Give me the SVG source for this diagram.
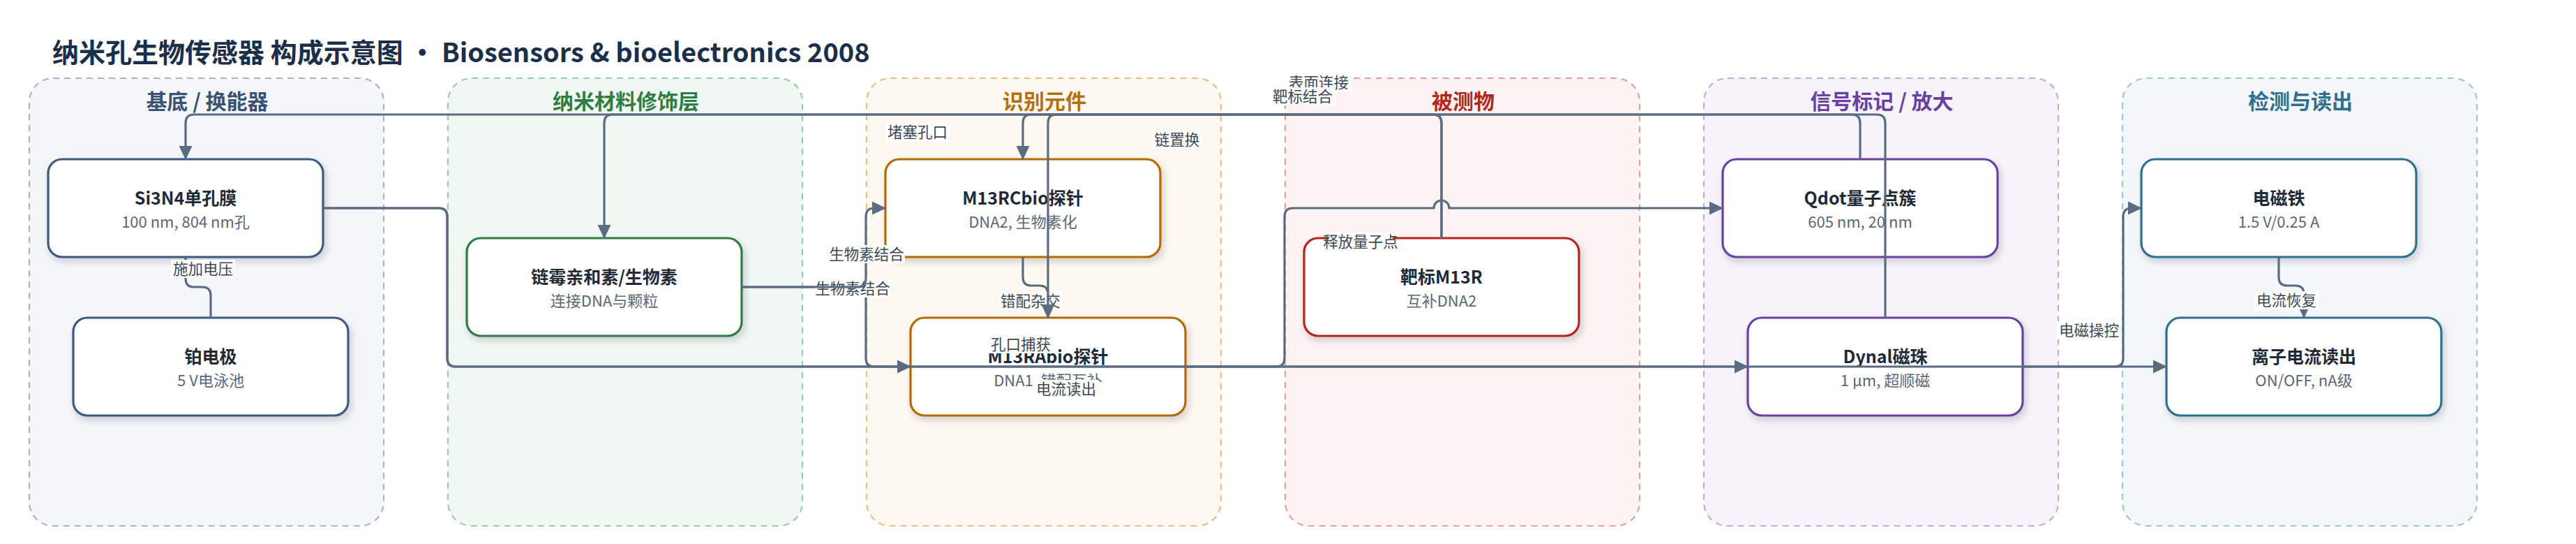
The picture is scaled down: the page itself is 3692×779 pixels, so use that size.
<svg xmlns="http://www.w3.org/2000/svg" width="3692" height="779" viewBox="0 0 3692 779">
<defs>
<style>
.grp{stroke-width:2.2;stroke-dasharray:9 7}
.gt{font-family:"Noto Sans CJK SC","Noto Sans",sans-serif;font-weight:bold;font-size:30px;text-anchor:middle}
.node{fill:#fff;stroke-width:3.2;filter:url(#sh)}
.nt{font-family:"Noto Sans CJK SC","Noto Sans",sans-serif;font-weight:bold;font-size:25px;fill:#1f2937;text-anchor:middle}
.ns{font-family:"Noto Sans CJK SC","Noto Sans",sans-serif;font-size:22px;fill:#5b6677;text-anchor:middle}
.e{fill:none;stroke:#5b6b82;stroke-width:3.2;marker-end:url(#ah)}
.lb{fill:#fff}
.lt{font-family:"Noto Sans CJK SC","Noto Sans",sans-serif;font-size:21.5px;fill:#3d4756;text-anchor:middle}
</style>
<filter id="sh" x="-10%" y="-15%" width="125%" height="140%">
<feDropShadow dx="3" dy="5" stdDeviation="5" flood-color="#1e2a3a" flood-opacity="0.2"/>
</filter>
<marker id="ah" markerUnits="userSpaceOnUse" markerWidth="20" markerHeight="19" refX="19" refY="9.5" orient="auto">
<path d="M0,0 L20,9.5 L0,19 z" fill="#5b6b82"/>
</marker>
</defs>
<rect width="3692" height="779" fill="#fff"/>
<text x="75" y="89" font-family="Noto Sans CJK SC, Noto Sans, sans-serif" font-weight="bold" font-size="38" fill="#1b2f4a">纳米孔生物传感器 构成示意图 • Biosensors &amp; bioelectronics 2008</text>

<g id="groups">
<g id="g1"><rect class="grp" x="42" y="112" width="508" height="641" rx="34" fill="#f4f6fa" stroke="#a8b5c8"/><text class="gt" x="297" y="156" fill="#3a5275">基底 / 换能器</text></g>
<g id="g2"><rect class="grp" x="642" y="112" width="508" height="641" rx="34" fill="#f1f8f3" stroke="#9ccdaa"/><text class="gt" x="897" y="156" fill="#2e7d45">纳米材料修饰层</text></g>
<g id="g3"><rect class="grp" x="1242" y="112" width="508" height="641" rx="34" fill="#fdf8f0" stroke="#e6c087"/><text class="gt" x="1497" y="156" fill="#b5700f">识别元件</text></g>
<g id="g4"><rect class="grp" x="1842" y="112" width="508" height="641" rx="34" fill="#fdf3f2" stroke="#e3a19e"/><text class="gt" x="2097" y="156" fill="#b3261e">被测物</text></g>
<g id="g5"><rect class="grp" x="2442" y="112" width="508" height="641" rx="34" fill="#f7f3fb" stroke="#c4a9df"/><text class="gt" x="2697" y="156" fill="#6b3fa0">信号标记 / 放大</text></g>
<g id="g6"><rect class="grp" x="3042" y="112" width="508" height="641" rx="34" fill="#f3f7f9" stroke="#a6c3d1"/><text class="gt" x="3297" y="156" fill="#2f6f8f">检测与读出</text></g>
</g>

<g id="nodes">
<g id="n_si3n4"><rect class="node" x="69" y="228" width="394" height="140" rx="20" stroke="#3d5a80"/><text class="nt" x="266" y="293">Si3N4单孔膜</text><text class="ns" x="266" y="326">100 nm, 804 nm孔</text></g>
<g id="n_pt"><rect class="node" x="105" y="455" width="394" height="140" rx="20" stroke="#3d5a80"/><text class="nt" x="302" y="520">铂电极</text><text class="ns" x="302" y="553">5 V电泳池</text></g>
<g id="n_strep"><rect class="node" x="669" y="341" width="394" height="140" rx="20" stroke="#2e7d45"/><text class="nt" x="866" y="406">链霉亲和素/生物素</text><text class="ns" x="866" y="439">连接DNA与颗粒</text></g>
<g id="n_m13rc"><rect class="node" x="1269" y="228" width="394" height="140" rx="20" stroke="#b36b00"/><text class="nt" x="1466" y="293">M13RCbio探针</text><text class="ns" x="1466" y="326">DNA2, 生物素化</text></g>
<g id="n_m13ra"><rect class="node" x="1305" y="455" width="394" height="140" rx="20" stroke="#b36b00"/><text class="nt" x="1502" y="520">M13RAbio探针</text><text class="ns" x="1502" y="553">DNA1, 错配互补</text></g>
<g id="n_target"><rect class="node" x="1869" y="341" width="394" height="140" rx="20" stroke="#b3261e"/><text class="nt" x="2066" y="406">靶标M13R</text><text class="ns" x="2066" y="439">互补DNA2</text></g>
<g id="n_qdot"><rect class="node" x="2469" y="228" width="394" height="140" rx="20" stroke="#6b3fa0"/><text class="nt" x="2666" y="293">Qdot量子点簇</text><text class="ns" x="2666" y="326">605 nm, 20 nm</text></g>
<g id="n_dynal"><rect class="node" x="2505" y="455" width="394" height="140" rx="20" stroke="#6b3fa0"/><text class="nt" x="2702" y="520">Dynal磁珠</text><text class="ns" x="2702" y="553">1 μm, 超顺磁</text></g>
<g id="n_magnet"><rect class="node" x="3069" y="228" width="394" height="140" rx="20" stroke="#2f6f8f"/><text class="nt" x="3266" y="293">电磁铁</text><text class="ns" x="3266" y="326">1.5 V/0.25 A</text></g>
<g id="n_readout"><rect class="node" x="3105" y="455" width="394" height="140" rx="20" stroke="#2f6f8f"/><text class="nt" x="3302" y="520">离子电流读出</text><text class="ns" x="3302" y="553">ON/OFF, nA级</text></g>
</g>

<g id="connectors">
<g id="e_voltage"><path class="e" d="M302,455 V423 Q302,411 290,411 H278 Q266,411 266,399 V368"/><rect class="lb" x="245" y="372" width="92" height="26"/><text class="lt" x="291" y="393">施加电压</text></g>
<g id="e_recover"><path class="e" d="M3266,368 V397 Q3266,409 3278,409 H3290 Q3302,409 3302,421 V455"/><rect class="lb" x="3231" y="417" width="92" height="26"/><text class="lt" x="3277" y="438">电流恢复</text></g>
<g id="e_bio2"><path class="e" d="M1063,411 H1229 Q1241,411 1241,423 V513 Q1241,525 1253,525 H1305"/><rect class="lb" x="1167" y="400" width="110" height="26"/><text class="lt" x="1222" y="421">生物素结合</text></g>
<g id="e_bio1"><path class="e" d="M1063,411 H1229 Q1241,411 1241,399 V310 Q1241,298 1253,298 H1269"/><rect class="lb" x="1187" y="351" width="110" height="26"/><text class="lt" x="1242" y="372">生物素结合</text></g>
<g id="e_mismatch"><path class="e" d="M1466,368 V397 Q1466,409 1478,409 H1490 Q1502,409 1502,421 V455"/><rect class="lb" x="1431" y="418" width="92" height="26"/><text class="lt" x="1477" y="439">错配杂交</text></g>
<g id="e_displace"><path class="e" d="M2066,341 V176 Q2066,164 2054,164 H1514 Q1502,164 1502,176 V455"/><rect class="lb" x="1652" y="187" width="70" height="26"/><text class="lt" x="1687" y="208">链置换</text></g>
<g id="e_block"><path class="e" d="M2702,455 V176 Q2702,164 2690,164 H278 Q266,164 266,176 V228"/><rect class="lb" x="1269" y="176" width="92" height="26"/><text class="lt" x="1315" y="197">堵塞孔口</text></g>
<g id="e_surface"><path class="e" d="M2666,228 V176 Q2666,164 2654,164 H878 Q866,164 866,176 V341"/><rect class="lb" x="1845" y="105" width="92" height="26"/><text class="lt" x="1890" y="126">表面连接</text></g>
<g id="e_bind"><path class="e" d="M2066,341 V176 Q2066,164 2054,164 H1478 Q1466,164 1466,176 V228"/><rect class="lb" x="1822" y="125" width="92" height="26"/><text class="lt" x="1867" y="146">靶标结合</text></g>
<g id="e_readout"><path class="e" d="M463,298 H629 Q641,298 641,310 V513 Q641,525 653,525 H3105"/><rect class="lb" x="1482" y="544" width="92" height="26"/><text class="lt" x="1528" y="565">电流读出</text></g>
<g id="e_capture"><path class="e" d="M463,298 H629 Q641,298 641,310 V513 Q641,525 653,525 H2505"/><rect class="lb" x="1417" y="480" width="92" height="26"/><text class="lt" x="1463" y="501">孔口捕获</text></g>
<g id="e_release"><path class="e" d="M1699,525 H1829 Q1841,525 1841,513 V310 Q1841,298 1853,298 H2055 A11,11 0 0 1 2077,298 H2469"/><rect class="lb" x="1904" y="333" width="92" height="26"/><text class="lt" x="1950" y="354">释放量子点</text></g>
<g id="e_magnet"><path class="e" d="M2899,525 H3031 Q3043,525 3043,513 V310 Q3043,298 3055,298 H3069"/><rect class="lb" x="2948" y="460" width="92" height="26"/><text class="lt" x="2994" y="481">电磁操控</text></g>
</g>
</svg>
